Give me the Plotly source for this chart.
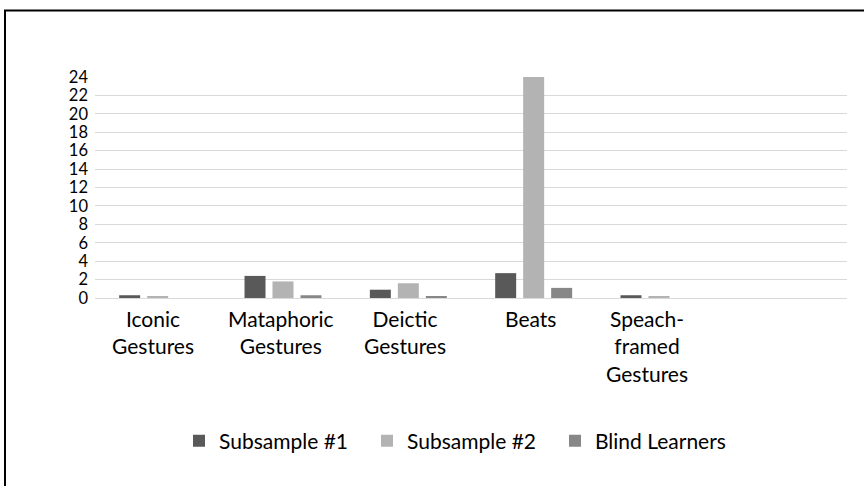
import plotly.graph_objects as go

categories = ["Iconic Gestures", "Mataphoric Gestures", "Deictic Gestures", "Beats",
              "Speach-framed Gestures", " "]
category_labels = ["Iconic<br>Gestures", "Mataphoric<br>Gestures", "Deictic<br>Gestures", "Beats",
                   "Speach-<br>framed<br>Gestures"]
subsample1 = [0.3, 2.4, 0.9, 2.7, 0.3, None]
subsample2 = [0.2, 1.8, 1.6, 24, 0.2, None]
blind = [0, 0.3, 0.2, 1.1, 0, None]
y_ticks = list(range(0, 25, 2))

# small horizontal offsets of the wrapped category labels (pixels)
label_xshift = [-5, -2, -3, -3, -12]

W, H = 864, 486
L, R, T, B = 95, 17, 77, 188
pw, ph = W - L - R, H - T - B

fig = go.Figure()
for name, vals, col in [("Subsample #1", subsample1, "#595959"),
                        ("Subsample #2", subsample2, "#b3b3b3"),
                        ("Blind Learners", blind, "#878787")]:
    fig.add_trace(go.Bar(x=categories, y=vals, name=name, marker_color=col,
                         marker_line_width=0))

font = "Lato, 'Open Sans', sans-serif"
fig.update_layout(
    width=W, height=H,
    margin=dict(l=L, r=R, t=T, b=B),
    paper_bgcolor="white", plot_bgcolor="white",
    barmode="group", bargap=0.33, bargroupgap=0.25,
    font=dict(family=font, size=21, color="#000000"),
    legend=dict(orientation="h", x=(193 - 14 - L) / pw, xanchor="left", y=-0.648,
                yanchor="middle", font=dict(size=21), itemwidth=30, tracegroupgap=0,
                entrywidth=143, entrywidthmode="pixels"),
    xaxis=dict(type="category", categoryorder="array", categoryarray=categories,
               showgrid=False, showline=False, ticks="", showticklabels=False,
               range=[-0.5, 5.5]),
    yaxis=dict(range=[0, 24], tickvals=y_ticks, showgrid=True, gridcolor="#d9d9d9",
               gridwidth=1, zeroline=True, zerolinecolor="#d9d9d9", zerolinewidth=1,
               ticks="", showline=False, tickfont=dict(size=16.5), ticklabelstandoff=6),
)

for cat, lab, dx in zip(categories, category_labels, label_xshift):
    fig.add_annotation(x=cat, y=0, xref="x", yref="y", text=lab, showarrow=False,
                       xanchor="center", yanchor="top", yshift=-6, xshift=dx,
                       align="center", font=dict(size=21, family=font, color="#000000"))

# frame (top and left lines of a cropped border)
x_left = (5 - L) / pw
y_top = (H - B - 10.5) / ph
fig.add_shape(type="path", xref="paper", yref="paper",
              path=f"M {x_left} -2 L {x_left} {y_top} L 1.2 {y_top}",
              line=dict(color="black", width=2))

fig.write_html("out.html", post_script="document.body.style.margin='0';",
               config={"displayModeBar": False})
